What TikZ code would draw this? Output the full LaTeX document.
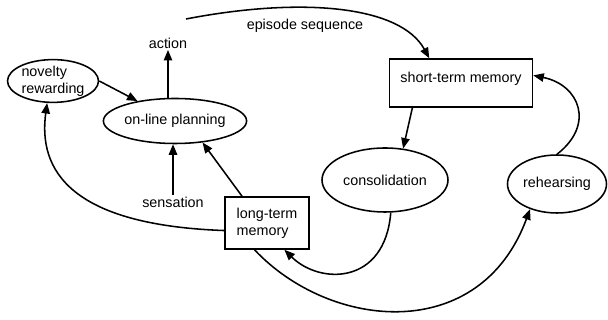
\documentclass[tikz,border=0pt]{standalone}
\usepackage{fontspec}
\setmainfont{Liberation Sans}
\usetikzlibrary{arrows.meta, shapes.geometric}

\begin{document}
\begin{tikzpicture}[
  font=\fontsize{10.2}{12}\selectfont,
  oval/.style={draw,ellipse,line width=1.1pt,inner sep=0pt,align=left},
  box/.style={draw,rectangle,line width=1.1pt,inner sep=0pt,align=left},
  lbl/.style={inner sep=1pt},
  arr/.style={-{Triangle[length=7.5pt,width=6pt]},line width=1.1pt}
]
\useasboundingbox (0,0) rectangle (15.2,8);
\node[oval,minimum width=2.275cm,minimum height=0.95cm] (novelty) at (1.325,5.975) {novelty\\rewarding};
\node[oval,minimum width=3.575cm,minimum height=1.125cm] (online) at (4.375,4.975) {on-line planning};
\node[box,minimum width=3.575cm,minimum height=1.2cm,text depth=8pt] (shortterm) at (11.525,5.925) {short-term memory};
\node[oval,minimum width=3.15cm,minimum height=1.6cm] (consolidation) at (9.625,3.5) {consolidation};
\node[oval,minimum width=2.475cm,minimum height=1.45cm] (rehearsing) at (13.925,3.4) {rehearsing};
\node[box,minimum width=2.1cm,minimum height=1.3cm] (longterm) at (6.675,2.425) {long-term\\memory};
\node[lbl] (action) at (4.2,6.925) {action};
\node[lbl] (sensation) at (4.325,2.95) {sensation};
\node[lbl] (episode) at (7.625,7.35) {episode sequence};
\coordinate (epstart) at (4.65,7.525);

\draw[arr] (online.north -| action) -- (action);
\draw[arr] (sensation) -- (sensation |- online.south);
\draw[arr] (novelty.east) -- (online.152);
\draw[arr] (longterm.133) -- (online.-38);
\draw[arr] (epstart) .. controls (7.5,8.075) and (10.0,7.875) .. (shortterm.142);
\draw[arr] (shortterm.207) -- (consolidation.60);
\draw[arr] (rehearsing.north) .. controls (14.875,4.875) and (14.5,5.875) .. (shortterm.6);
\draw[arr] (longterm.190) .. controls (1.75,2.375) and (0.95,3.75) .. (novelty.255);
\draw[arr] (consolidation.-80) .. controls (9.625,0.875) and (8.0,0.875) .. (longterm.-57);
\draw[arr] (longterm.245) .. controls (8.25,-0.25) and (12.0,-0.625) .. (rehearsing.223);
\end{tikzpicture}
\end{document}
